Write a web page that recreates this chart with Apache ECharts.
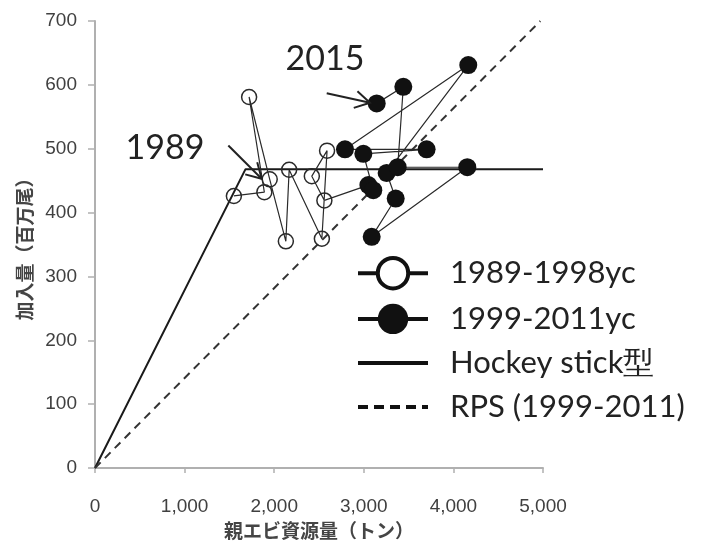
<!DOCTYPE html>
<html>
<head>
<meta charset="utf-8">
<script src="https://cdn.jsdelivr.net/npm/echarts@6/dist/echarts.min.js"></script>
<style>
html,body{margin:0;padding:0;background:#fff;}
#chart{width:705px;height:542px;}
</style>
</head>
<body>
<div id="chart"></div>
<script>
// ---- data (spawning stock biomass [t], recruitment [million]) ----
const openSpawner = [1550, 1890, 1720, 1950, 2130, 2167, 2532, 2590, 2420, 2560];
const openRecruit = [426, 432, 581, 452, 355, 467, 359, 497, 457, 419];

const filledSpawner = [3051, 3106, 2995, 3701, 2790, 4166, 3255, 3356, 3088, 4155, 3378, 3441, 3144];
const filledRecruit = [443, 435, 492, 499, 499, 631, 462, 422, 362, 471, 471, 597, 571];

const hockeyX = [0, 1680, 5000];
const hockeyY = [0, 468, 468];

const rpsX = [0, 4970];
const rpsY = [0, 700];

const xTicks = [0, 1000, 2000, 3000, 4000, 5000];
const yTicks = [0, 100, 200, 300, 400, 500, 600, 700];

const seriesNames = ['1989-1998yc', '1999-2011yc', 'Hockey stick型', 'RPS (1999-2011)'];
const annoYears = ['1989', '2015'];
const annoTextPos = [[781, 501], [2567, 640]];
const annoArrows = [[[1488, 505], [1860, 453]], [[2586, 587], [3069, 572]]];

const zip = (a, b) => a.map((v, i) => [v, b[i]]);

const openData = zip(openSpawner, openRecruit);
const filledData = [{ value: openData[openData.length - 1], symbol: 'none' }]
  .concat(zip(filledSpawner, filledRecruit));

const chart = echarts.init(document.getElementById('chart'), null, { renderer: 'canvas' });

const axisLabelStyle = { color: '#404040', fontSize: 19, fontFamily: 'Liberation Sans' };
const nameStyle = { color: '#454545', fontSize: 19, fontWeight: 'bold', fontFamily: 'Noto Sans CJK JP' };
const hidden = { color: 'rgba(0,0,0,0)', borderWidth: 0, opacity: 0 };

chart.setOption({
  animation: false,
  backgroundColor: '#fff',
  grid: { left: 95, right: 162, top: 21, bottom: 74, containLabel: false, outerBoundsMode: 'none' },
  xAxis: {
    type: 'value', min: xTicks[0], max: xTicks[xTicks.length - 1], interval: 1000,
    name: '親エビ資源量（トン）', nameLocation: 'middle', nameGap: 51, nameTextStyle: nameStyle,
    axisLine: { show: true, lineStyle: { color: '#b0b0b0', width: 2 } },
    axisTick: { show: true, length: 5, lineStyle: { color: '#b0b0b0', width: 1.5 } },
    axisLabel: Object.assign({ margin: 29, formatter: v => v.toLocaleString('en-US') }, axisLabelStyle),
    splitLine: { show: false }
  },
  yAxis: {
    type: 'value', min: yTicks[0], max: yTicks[yTicks.length - 1], interval: 100,
    name: '加入量（百万尾）', nameLocation: 'middle', nameGap: 59, nameRotate: 90, nameTextStyle: nameStyle,
    axisLine: { show: true, lineStyle: { color: '#b0b0b0', width: 2 } },
    axisTick: { show: true, length: 7, lineStyle: { color: '#b0b0b0', width: 1.5 } },
    axisLabel: Object.assign({ margin: 18 }, axisLabelStyle),
    splitLine: { show: false }
  },
  legend: {
    orient: 'vertical', left: 351, top: 251, itemWidth: 70, itemHeight: 38, itemGap: 13,
    textStyle: { fontSize: 31, fontFamily: 'Lato', color: '#222', padding: [0, 0, 0, 17] },
    data: [
      { name: seriesNames[0], itemStyle: { color: '#fff', borderColor: '#111', borderWidth: 4 }, lineStyle: { width: 4, color: '#111' } },
      { name: seriesNames[1], itemStyle: { color: '#111', borderWidth: 0 }, lineStyle: { width: 4, color: '#111' } },
      { name: seriesNames[2], itemStyle: hidden, lineStyle: { width: 4, color: '#111' } },
      { name: seriesNames[3], itemStyle: hidden, lineStyle: { width: 4, color: '#111', type: [10, 6] } }
    ]
  },
  series: [
    {
      name: seriesNames[2], type: 'line', data: zip(hockeyX, hockeyY), symbol: 'none',
      lineStyle: { color: '#1a1a1a', width: 2 }, itemStyle: { color: '#1a1a1a' }, z: 1, silent: true
    },
    {
      name: seriesNames[3], type: 'line', data: zip(rpsX, rpsY), symbol: 'none',
      lineStyle: { color: '#333', width: 2, type: [8, 6] }, itemStyle: { color: '#333' }, z: 1, silent: true
    },
    {
      name: seriesNames[0], type: 'line', data: openData, symbol: 'circle', symbolSize: 15,
      itemStyle: { color: 'rgba(255,255,255,0)', borderColor: '#2a2a2a', borderWidth: 1.5 },
      lineStyle: { color: '#2a2a2a', width: 1.2 }, z: 3
    },
    {
      name: seriesNames[1], type: 'line', data: filledData, symbol: 'circle', symbolSize: 18,
      itemStyle: { color: '#111', borderWidth: 0 },
      lineStyle: { color: '#2a2a2a', width: 1.2 }, z: 4
    }
  ]
});

// annotations (year labels with open-headed arrows), positioned in data coordinates
const px = p => chart.convertToPixel({ gridIndex: 0 }, p);
const graphics = [];
annoYears.forEach((t, i) => {
  const c = px(annoTextPos[i]);
  graphics.push({
    type: 'text', x: c[0], y: c[1], z: 10,
    style: { text: t, font: '34px Lato', fill: '#222', align: 'center', verticalAlign: 'middle' }
  });
  const a = px(annoArrows[i][0]);
  const b = px(annoArrows[i][1]);
  const ang = Math.atan2(b[1] - a[1], b[0] - a[0]);
  const L = 17, spread = Math.PI / 6;
  const h1 = [b[0] - L * Math.cos(ang - spread), b[1] - L * Math.sin(ang - spread)];
  const h2 = [b[0] - L * Math.cos(ang + spread), b[1] - L * Math.sin(ang + spread)];
  graphics.push({ type: 'line', z: 10, shape: { x1: a[0], y1: a[1], x2: b[0], y2: b[1] }, style: { stroke: '#222', lineWidth: 2 } });
  graphics.push({ type: 'polyline', z: 10, shape: { points: [h1, b, h2] }, style: { stroke: '#222', lineWidth: 2, fill: null } });
});
chart.setOption({ graphic: graphics });
</script>
</body>
</html>
